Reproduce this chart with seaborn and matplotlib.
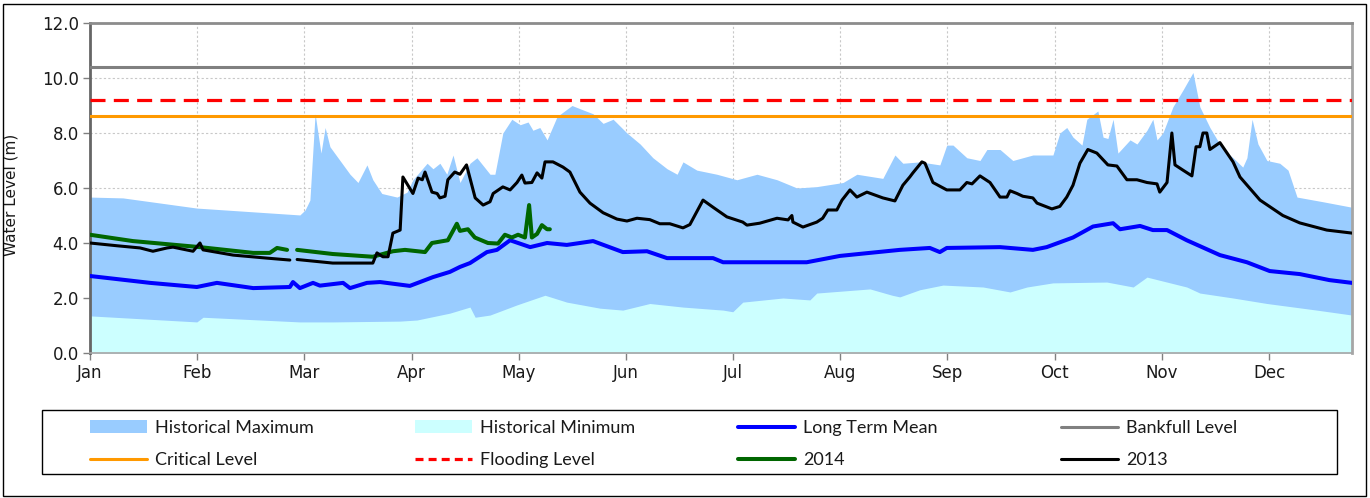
import numpy as np
import matplotlib
matplotlib.use("Agg")
import matplotlib.pyplot as plt
import seaborn as sns
from matplotlib.patches import Rectangle, Patch
from matplotlib.lines import Line2D

# ---------------- data ----------------
months = ["Jan", "Feb", "Mar", "Apr", "May", "Jun", "Jul", "Aug", "Sep", "Oct", "Nov", "Dec"]
month_days = [0, 31, 62, 93, 124, 155, 186, 217, 248, 279, 310, 341]
y_ticks = [0, 2, 4, 6, 8, 10, 12]

bankfull_level = 10.4
flooding_level = 9.2
critical_level = 8.6

hist_max_day = [0, 9.5, 30.9, 60.7, 62.2, 63.6, 65.1, 66.8, 68.0, 69.4, 72.3, 75.2, 77.5, 80.1, 81.8,
                84.4, 88.8, 91.7, 93.4, 97.5, 99.2, 101.2, 103.2, 105.0, 107.0, 109.9, 111.9, 115.7,
                117.1, 119.4, 122.0, 124.4, 126.7, 128.1, 130.1, 132.2, 135.1, 139.4, 142.6, 145.5,
                148.4, 151.3, 155.3, 159.1, 162.8, 166.9, 169.8, 171.5, 175.5, 181.3, 187.1, 192.9,
                198.7, 204.5, 210.2, 217.8, 221.8, 229.3, 232.8, 235.1, 240.0, 245.8, 247.8, 249.6,
                253.6, 257.4, 259.4, 263.2, 266.9, 272.7, 278.5, 280.5, 282.5, 284.3, 286.9, 288.3,
                291.5, 293.0, 294.4, 295.9, 297.3, 300.8, 302.8, 305.7, 307.4, 308.6, 310.3, 313.2,
                316.1, 319.0, 321.0, 323.9, 327.7, 330.6, 333.4, 334.6, 336.1, 337.8, 340.4, 344.1,
                346.5, 349.1, 356.6, 365]
hist_max = [5.67, 5.64, 5.27, 5.02, 5.2, 5.56, 8.7, 7.27, 8.2, 7.5, 7.0, 6.5, 6.2, 6.84, 6.3,
            5.8, 5.67, 5.85, 6.3, 6.9, 6.7, 6.9, 6.5, 7.2, 6.2, 6.9, 7.1, 6.5,
            6.5, 8.0, 8.5, 8.3, 8.4, 8.1, 8.2, 7.75, 8.6, 9.0, 8.84, 8.7,
            8.35, 8.5, 8.0, 7.6, 7.1, 6.7, 6.5, 6.95, 6.65, 6.5, 6.3, 6.5,
            6.3, 6.0, 6.05, 6.2, 6.5, 6.35, 7.2, 6.9, 6.95, 6.84, 7.56, 7.56,
            7.1, 7.0, 7.4, 7.4, 7.0, 7.2, 7.2, 8.0, 8.2, 7.85, 7.56, 8.5,
            8.8, 7.85, 7.8, 8.5, 7.27, 7.75, 7.6, 8.1, 8.5, 7.75, 8.0, 8.95,
            9.56, 10.2, 8.95, 8.2, 7.4, 7.1, 6.76, 7.1, 8.5, 7.6, 7.0, 6.9,
            6.65, 5.67, 5.5, 5.3]

hist_min_day = [0, 30.9, 32.7, 60.7, 70.2, 89.7, 94.6, 104.1, 109.9, 111.4, 115.7, 123.5, 131.6,
                137.9, 147.5, 154.1, 161.9, 171.5, 183.1, 185.9, 188.8, 200.4, 208.2, 210.2, 225.6,
                232.0, 234.2, 240.0, 246.7, 258.3, 266.1, 271.0, 278.5, 294.1, 301.7, 305.7, 317.2,
                321.0, 330.6, 340.4, 354.8, 365]
hist_min = [1.35, 1.13, 1.3, 1.13, 1.13, 1.16, 1.2, 1.45, 1.67, 1.3, 1.38, 1.75, 2.1,
            1.85, 1.63, 1.56, 1.8, 1.67, 1.56, 1.5, 1.85, 2.0, 1.93, 2.18, 2.33,
            2.1, 2.04, 2.3, 2.47, 2.4, 2.22, 2.4, 2.55, 2.58, 2.4, 2.76, 2.4,
            2.18, 2.0, 1.8, 1.56, 1.38]

mean_day = [0, 17.4, 30.9, 36.7, 47.2, 57.8, 58.7, 60.7, 64.5, 66.5, 73.2, 75.2, 80.1, 83.9, 92.5,
            99.2, 104.1, 107.0, 109.9, 114.8, 117.7, 121.5, 127.3, 132.2, 137.9, 145.5, 154.1,
            161.1, 166.9, 180.2, 183.1, 200.4, 207.3, 216.9, 224.7, 234.2, 242.9, 245.8, 247.8,
            263.2, 272.7, 276.7, 284.3, 290.1, 295.9, 297.9, 303.7, 307.4, 311.5, 317.2, 326.8,
            334.6, 341.2, 349.9, 358.5, 365]
mean_level = [2.8, 2.55, 2.4, 2.55, 2.36, 2.4, 2.58, 2.36, 2.55, 2.45, 2.55, 2.36, 2.55, 2.58, 2.44,
              2.76, 2.95, 3.13, 3.27, 3.67, 3.75, 4.1, 3.85, 4.0, 3.93, 4.07, 3.67,
              3.7, 3.45, 3.45, 3.3, 3.3, 3.3, 3.53, 3.63, 3.75, 3.82, 3.67, 3.82,
              3.85, 3.75, 3.85, 4.2, 4.6, 4.72, 4.5, 4.62, 4.47, 4.47, 4.1, 3.56,
              3.3, 2.98, 2.87, 2.65, 2.55]

y2013_day = [0, 7.8, 14.5, 18.2, 22.3, 24.0, 29.8, 31.8, 32.7, 41.4, 51.2, 57.8, 58.8, 59.9, 70.2,
             81.8, 83.0, 84.7, 86.2, 87.6, 89.7, 90.5, 93.4, 94.9, 96.1, 96.9, 98.9, 100.4, 101.2,
             102.7, 103.5, 105.5, 107.0, 108.9, 111.4, 113.7, 115.7, 116.6, 119.4, 121.5, 123.5,
             124.9, 125.8, 127.8, 129.3, 130.7, 131.6, 133.9, 136.8, 138.8, 141.7, 144.6, 148.4,
             152.4, 155.3, 158.2, 161.9, 164.8, 167.7, 171.5, 173.5, 177.3, 180.2, 184.2, 188.8,
             190.0, 193.7, 198.7, 201.9, 203.0, 203.3, 206.2, 210.2, 211.9, 213.4, 216.0, 217.5,
             219.8, 221.8, 224.7, 229.3, 232.8, 235.1, 237.1, 238.0, 240.6, 241.5, 243.8, 247.8,
             251.6, 253.6, 255.1, 257.4, 260.3, 263.2, 265.2, 266.1, 268.1, 269.8, 272.7, 273.9,
             278.2, 280.5, 282.5, 284.3, 286.3, 288.6, 291.2, 294.4, 297.0, 299.9, 302.8, 305.7,
             308.6, 309.4, 311.5, 312.9, 313.8, 316.1, 318.7, 319.9, 321.0, 321.9, 323.0, 323.9,
             326.8, 330.6, 332.6, 338.4, 345.0, 349.9, 357.7, 365]
y2013 = [4.0, 3.9, 3.82, 3.7, 3.82, 3.85, 3.7, 4.0, 3.75, 3.56, 3.45, 3.38, np.nan, 3.4, 3.27,
         3.27, 3.64, 3.5, 3.5, 4.36, 4.47, 6.4, 5.8, 6.36, 6.3, 6.58, 5.85, 5.8, 5.64,
         5.7, 6.3, 6.58, 6.5, 6.84, 5.64, 5.38, 5.5, 5.8, 6.04, 5.93, 6.2,
         6.47, 6.18, 6.2, 6.55, 6.36, 6.95, 6.95, 6.76, 6.58, 5.85, 5.45, 5.1,
         4.87, 4.8, 4.9, 4.85, 4.7, 4.7, 4.55, 4.67, 5.56, 5.3, 4.95, 4.76,
         4.65, 4.72, 4.9, 4.84, 5.0, 4.76, 4.58, 4.76, 4.9, 5.2, 5.2, 5.56,
         5.93, 5.67, 5.85, 5.64, 5.53, 6.1, 6.4, 6.55, 6.95, 6.9, 6.2, 5.93,
         5.93, 6.2, 6.15, 6.44, 6.2, 5.67, 5.67, 5.9, 5.8, 5.7, 5.64, 5.45,
         5.24, 5.33, 5.67, 6.1, 6.9, 7.4, 7.27, 6.84, 6.8, 6.3, 6.3, 6.2,
         6.15, 5.85, 6.2, 8.0, 6.84, 6.65, 6.44, 7.5, 7.5, 8.0, 8.0, 7.4,
         7.65, 6.95, 6.4, 5.56, 5.0, 4.73, 4.47, 4.36]

y2014_day = [0, 12.4, 31.8, 47.2, 52.0, 54.1, 57.0, 58.5, 59.9, 70.2, 81.8, 87.6, 91.1, 96.9,
             98.9, 103.5, 106.1, 107.0, 109.3, 111.3, 115.1, 118.0, 120.0, 122.0, 123.8, 125.8,
             127.0, 127.8, 129.3, 130.7, 132.2, 133.0]
y2014 = [4.3, 4.07, 3.85, 3.64, 3.64, 3.82, 3.75, np.nan, 3.75, 3.6, 3.5, 3.7, 3.75, 3.67,
         4.0, 4.1, 4.7, 4.44, 4.5, 4.2, 4.0, 3.98, 4.3, 4.2, 4.3, 4.2,
         5.38, 4.2, 4.33, 4.65, 4.5, 4.5]

# ---------------- styling ----------------
sns.set_style("white")
plt.rcParams["font.family"] = ["DejaVu Sans"]

C_MAX = "#99CCFF"
C_MIN = "#CCFFFF"
C_MEAN = "#0000FF"
C_BANK = "#808080"
C_CRIT = "#FF9900"
C_FLOOD = "#FF0000"
C_2014 = "#006600"
C_2013 = "#000000"
TXT = "#1a1a1a"

W, H = 1370, 498
fig = plt.figure(figsize=(W / 100, H / 100), dpi=100)
ax = fig.add_axes([90 / W, 1 - 353 / H, (1352 - 90) / W, (353 - 23) / H])
ax.set_axisbelow(True)


def segments(days, vals):
    d = np.asarray(days, float)
    v = np.asarray(vals, float)
    ok = ~np.isnan(v)
    idx = np.flatnonzero(np.diff(np.r_[0, ok.astype(int), 0]))
    for s, e in zip(idx[::2], idx[1::2]):
        yield d[s:e], v[s:e]


ax.fill_between(hist_max_day, 0, hist_max, color=C_MAX, linewidth=0, zorder=1)
ax.fill_between(hist_min_day, 0, hist_min, color=C_MIN, linewidth=0, zorder=1.1)

sns.lineplot(x=mean_day, y=mean_level, ax=ax, color=C_MEAN, linewidth=2.9,
             estimator=None, sort=False, zorder=3)
ax.axhline(bankfull_level, color=C_BANK, linewidth=2.2, zorder=3)
ax.axhline(critical_level, color=C_CRIT, linewidth=2.2, zorder=3)
ax.axhline(flooding_level, color=C_FLOOD, linewidth=2.3, linestyle=(0, (4.7, 2.6)), zorder=3)
for dd, vv in segments(y2014_day, y2014):
    sns.lineplot(x=dd, y=vv, ax=ax, color=C_2014, linewidth=2.9, estimator=None, sort=False, zorder=4)
for dd, vv in segments(y2013_day, y2013):
    sns.lineplot(x=dd, y=vv, ax=ax, color=C_2013, linewidth=2.2, estimator=None, sort=False, zorder=5)

ax.set_xlim(0, 365)
ax.set_ylim(0, 12)
ax.set_xticks(month_days)
ax.set_xticklabels(months)
ax.set_yticks(y_ticks)
ax.set_yticklabels([f"{t:.1f}" for t in y_ticks])
ax.tick_params(axis="both", which="both", direction="out", length=5, width=1, color="#808080",
               labelsize=12, labelcolor=TXT, left=True, bottom=True)
ax.tick_params(axis="x", pad=3)
ax.tick_params(axis="y", pad=3)
ax.grid(True, color="#c8c8c8", linestyle=(0, (2, 2)), linewidth=0.8)
ax.set_xlabel("")
ax.set_ylabel("Water Level (m)", fontsize=11, color=TXT)
ax.yaxis.set_label_coords(-0.057, 0.48)

for side, col, lw in [("left", "#666666", 2.0), ("bottom", "#a6a6a6", 1.2),
                      ("top", "#8c8c8c", 2.0), ("right", "#a6a6a6", 2.0)]:
    ax.spines[side].set_visible(True)
    ax.spines[side].set_color(col)
    ax.spines[side].set_linewidth(lw)

# ---------------- legend ----------------
h_max = Patch(facecolor=C_MAX, edgecolor="none")
h_min = Patch(facecolor=C_MIN, edgecolor="none")
h_mean = Line2D([], [], color=C_MEAN, linewidth=2.9)
h_bank = Line2D([], [], color=C_BANK, linewidth=2.2)
h_crit = Line2D([], [], color=C_CRIT, linewidth=2.2)
h_flood = Line2D([], [], color=C_FLOOD, linewidth=2.3, linestyle=(0, (2.5, 1.6)))
h_2014 = Line2D([], [], color=C_2014, linewidth=2.9)
h_2013 = Line2D([], [], color=C_2013, linewidth=2.2)

columns = [
    (90, [h_max, h_crit], ["Historical Maximum", "Critical Level"]),
    (415, [h_min, h_flood], ["Historical Minimum", "Flooding Level"]),
    (738, [h_mean, h_2014], ["Long Term Mean", "2014"]),
    (1061, [h_bank, h_2013], ["Bankfull Level", "2013"]),
]
LFS = 13
fs_px = LFS * 100 / 72
for xpx, handles, labels in columns:
    fig.legend(handles, labels, loc="upper left",
               bbox_to_anchor=(xpx / W, 1 - 420 / H), bbox_transform=fig.transFigure,
               frameon=False, borderpad=0, borderaxespad=0,
               handlelength=57 / fs_px, handleheight=0.75, handletextpad=8 / fs_px,
               labelspacing=0.9, prop={"family": "Lato", "size": LFS}, labelcolor=TXT)

fig.patches.append(Rectangle((42 / W, 1 - 474 / H), (1337 - 42) / W, (474 - 410) / H,
                             transform=fig.transFigure, fill=False, edgecolor="#000000",
                             linewidth=1.0, zorder=0))
fig.patches.append(Rectangle((3 / W, 2 / H), (1366 - 3) / W, (494 - 2) / H,
                             transform=fig.transFigure, fill=False, edgecolor="#000000",
                             linewidth=1.0, zorder=0))

fig.savefig("out.png", dpi=100, facecolor="white")
